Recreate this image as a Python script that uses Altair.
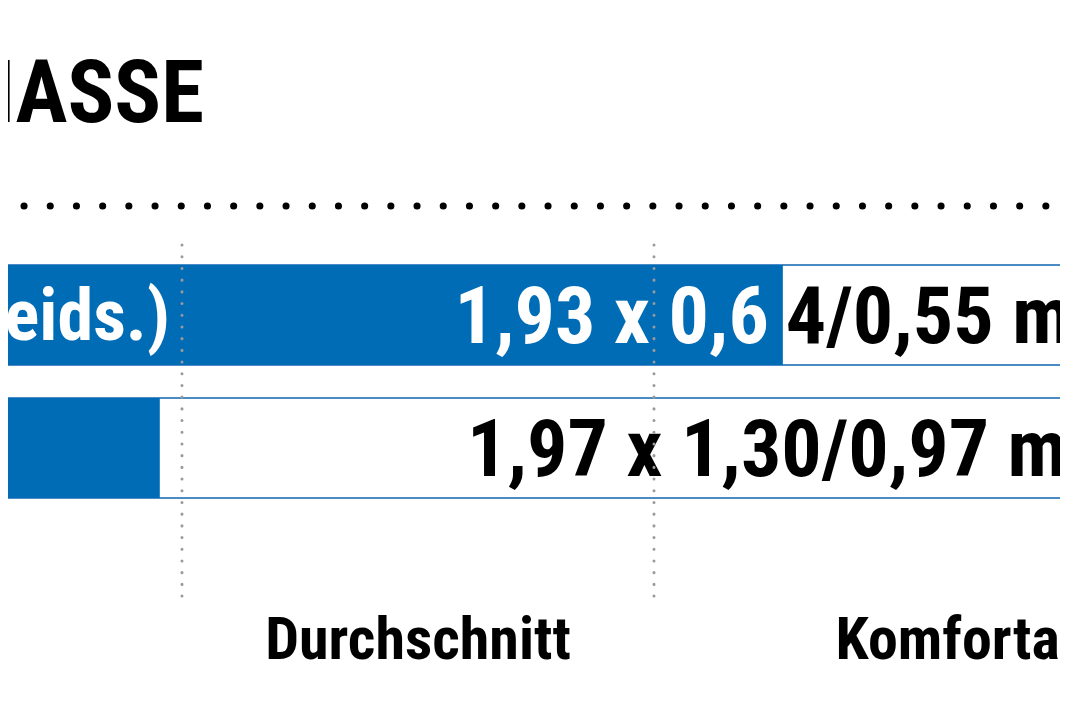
import altair as alt
import pandas as pd

# ---------------- data ----------------
TITLE = ["MASSE"]
ROWS = ["r1", "r2"]
ROW_LABELS = ["Apsiden (beids.)", "Innenzelt"]
VALUE_TEXT = ["1,93 x 0,64/0,55 m", "1,97 x 1,30/0,97 m"]
SPLIT_AT = [10, 0]            # characters of the value text lying on the blue fill
SCORES = [2.273, 0.953]       # where the blue fill ends (rating scale)
CATEGORY_BOUNDS = [1.0, 2.0]
CATEGORY_LABELS = ["Durchschnitt", "Komfortabel"]
CATEGORY_POS = [1.5, 2.7]

X_DOMAIN = [0.6314, 2.8602]
BAR_START = 0.4
BAR_END = 3.2
VALUE_START = 1.6038
LABEL_START = -0.0297

W, H = 1052, 690
BLUE = "#006cb6"
OUTLINE = "#4a8bc6"
FONT = "'Roboto Condensed', 'DejaVu Sans Condensed', sans-serif"

xs = alt.Scale(domain=X_DOMAIN)
ys = alt.Scale(domain=ROWS, range=[257, 490], paddingInner=0.248, paddingOuter=0)

bars = pd.DataFrame({
    "row": ROWS,
    "label": ROW_LABELS,
    "score": SCORES,
    "lo": [BAR_START] * len(ROWS),
    "hi": [BAR_END] * len(ROWS),
    "label_x": [LABEL_START] * len(ROWS),
})

# value text pieces
left_pieces, right_pieces = [], []
for r, t, s, k in zip(ROWS, VALUE_TEXT, SCORES, SPLIT_AT):
    if k > 0:
        right_pieces.append({"row": r, "text": t[:k], "x": s, "color": "white"})
        left_pieces.append({"row": r, "text": t[k:], "x": s, "color": "black", "anchor": "fill"})
    else:
        left_pieces.append({"row": r, "text": t, "x": VALUE_START, "color": "black", "anchor": "start"})
left_fill = pd.DataFrame([p for p in left_pieces if p["anchor"] == "fill"])
left_start = pd.DataFrame([p for p in left_pieces if p["anchor"] == "start"])
right_df = pd.DataFrame(right_pieces)

Y = alt.Y("row:N", scale=ys, axis=None, sort=ROWS)

outline = alt.Chart(bars).mark_bar(fill="white", stroke=OUTLINE, strokeWidth=2, clip=True).encode(
    x=alt.X("lo:Q", scale=xs, axis=None), x2="hi:Q", y=Y
)
fill = alt.Chart(bars).mark_bar(color=BLUE, clip=True).encode(
    x=alt.X("lo:Q", scale=xs, axis=None), x2="score:Q", y=Y
)

row_lab = alt.Chart(bars).mark_text(
    align="left", baseline="alphabetic", dy=25, font=FONT, fontSize=72, fontWeight="bold", color="white"
).encode(x=alt.X("label_x:Q", scale=xs, axis=None), y=Y, text="label:N")

txt_kw = dict(baseline="alphabetic", dy=28, font=FONT, fontSize=80, fontWeight="bold")
val_r = alt.Chart(right_df).mark_text(align="right", dx=-14, **txt_kw).encode(
    x=alt.X("x:Q", scale=xs, axis=None), y=Y, text="text:N", color=alt.Color("color:N", scale=None)
)
val_lf = alt.Chart(left_fill).mark_text(align="left", dx=3, **txt_kw).encode(
    x=alt.X("x:Q", scale=xs, axis=None), y=Y, text="text:N", color=alt.Color("color:N", scale=None)
)
val_ls = alt.Chart(left_start).mark_text(align="left", **txt_kw).encode(
    x=alt.X("x:Q", scale=xs, axis=None), y=Y, text="text:N", color=alt.Color("color:N", scale=None)
)

bounds = pd.DataFrame({"b": CATEGORY_BOUNDS})
vrules = alt.Chart(bounds).mark_rule(
    color="#9a9a9a", strokeWidth=3, strokeDash=[0.1, 11.6], strokeCap="round"
).encode(x=alt.X("b:Q", scale=xs, axis=None), y=alt.value(237), y2=alt.value(590))

hrule = alt.Chart(pd.DataFrame({"t": TITLE})).mark_rule(
    color="black", strokeWidth=7, strokeDash=[0.1, 26.1], strokeCap="round"
).encode(x=alt.value(-10.2), x2=alt.value(1090), y=alt.value(198))

title = alt.Chart(pd.DataFrame({"t": TITLE})).mark_text(
    align="right", baseline="alphabetic", font=FONT, fontSize=87, fontWeight="bold", color="black"
).encode(x=alt.value(196), y=alt.value(114), text="t:N")

cats = pd.DataFrame({"label": CATEGORY_LABELS, "pos": CATEGORY_POS})
cat_text = alt.Chart(cats).mark_text(
    align="center", baseline="alphabetic", font=FONT, fontSize=60, fontWeight="bold", color="black"
).encode(x=alt.X("pos:Q", scale=xs, axis=None), y=alt.value(651), text="label:N")

chart = alt.layer(
    outline, fill, row_lab, val_r, val_lf, val_ls, vrules, hrule, title, cat_text
).properties(
    width=W, height=H, padding=0, background="white",
    autosize=alt.AutoSizeParams(type="none"),
).configure_view(stroke=None)

chart.save("out.html", embed_options={"renderer": "svg", "actions": False})
